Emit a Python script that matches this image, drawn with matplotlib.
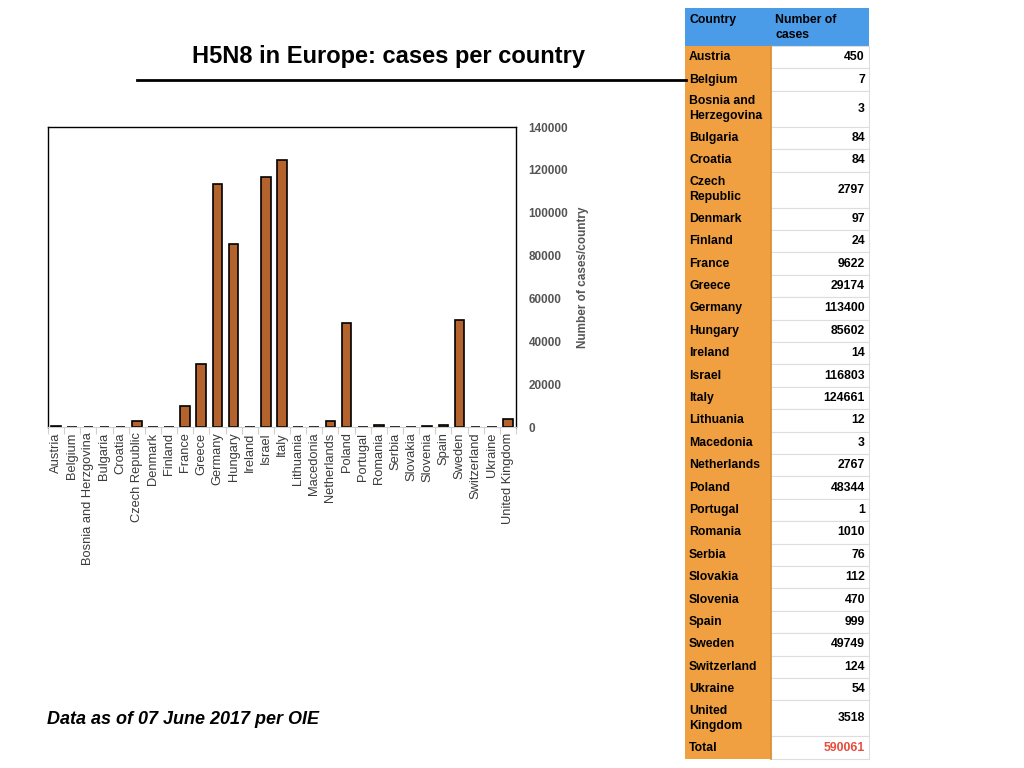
import matplotlib.pyplot as plt
from matplotlib.patches import Rectangle
import numpy as np

plt.rcParams["font.family"] = ["Liberation Sans", "DejaVu Sans"]

# chart data (alphabetical as in the chart, note Greece before Germany)
countries = ["Austria", "Belgium", "Bosnia and Herzgovina", "Bulgaria", "Croatia",
             "Czech Republic", "Denmark", "Finland", "France", "Greece", "Germany",
             "Hungary", "Ireland", "Israel", "Italy", "Lithuania", "Macedonia",
             "Netherlands", "Poland", "Portugal", "Romania", "Serbia", "Slovakia",
             "Slovenia", "Spain", "Sweden", "Switzerland", "Ukraine", "United Kingdom"]
cases = [450, 7, 3, 84, 84, 2797, 97, 24, 9622, 29174, 113400, 85602, 14, 116803,
         124661, 12, 3, 2767, 48344, 1, 1010, 76, 112, 470, 999, 49749, 124, 54, 3518]

# table labels (some split over two lines)
table_names = ["Austria", "Belgium", "Bosnia and\nHerzegovina", "Bulgaria", "Croatia",
               "Czech\nRepublic", "Denmark", "Finland", "France", "Greece", "Germany",
               "Hungary", "Ireland", "Israel", "Italy", "Lithuania", "Macedonia",
               "Netherlands", "Poland", "Portugal", "Romania", "Serbia", "Slovakia",
               "Slovenia", "Spain", "Sweden", "Switzerland", "Ukraine", "United\nKingdom"]
total_cases = sum(cases)

fig = plt.figure(figsize=(10.24, 7.68), dpi=100)

# bar chart
ax = fig.add_axes([48 / 1024, 1 - 427 / 768, 468 / 1024, 300 / 768])
x = np.arange(len(countries))
ax.bar(x, cases, width=0.6, color="#b5632c", edgecolor="black", linewidth=1.2)
ax.set_xlim(-0.5, len(countries) - 0.5)
ax.set_ylim(0, 140000)
ax.set_yticks(np.arange(0, 140001, 20000))
ax.yaxis.tick_right()
ax.yaxis.set_label_position("right")
ax.tick_params(axis="y", length=0, pad=9, labelsize=8.5, labelcolor="#555555")
for lab in ax.get_yticklabels():
    lab.set_fontweight("bold")
ax.set_ylabel("Number of cases/country", fontsize=8.5, fontweight="bold",
              color="#555555", labelpad=6)
ax.set_xticks(x)
ax.set_xticklabels(countries, rotation=90, fontsize=9.3, color="#3a3a3a")
ax.set_xticks(np.arange(-0.5, len(countries), 1), minor=True)
ax.tick_params(axis="x", which="major", length=0, pad=4)
ax.tick_params(axis="x", which="minor", length=5, color="#d0d0d0", width=0.8)
for side in ["left", "right", "top"]:
    ax.spines[side].set_color("black")
    ax.spines[side].set_linewidth(1.0)
ax.spines["bottom"].set_color("#d0d0d0")

# overlay in pixel coords for title, rule, note and table
ov = fig.add_axes([0, 0, 1, 1])
ov.set_xlim(0, 1024)
ov.set_ylim(768, 0)
ov.axis("off")

ov.text(389, 56, "H5N8 in Europe: cases per country", ha="center", va="center",
        fontsize=17, fontweight="bold")
ov.plot([137, 686], [80, 80], color="black", linewidth=2)
ov.text(47, 720, "Data as of 07 June 2017 per OIE", ha="left", va="center",
        fontsize=13, fontweight="bold", fontstyle="italic")

# table
x0, x1, x2 = 685, 771, 869
y = 8
hdr_h = 38
ov.add_patch(Rectangle((x0, y), x2 - x0, hdr_h, facecolor="#4a9be8", edgecolor="none"))
ov.text(x0 + 4, y + 6, "Country", ha="left", va="top", fontsize=8.8, fontweight="bold")
ov.text(x1 + 4, y + 6, "Number of\ncases", ha="left", va="top", fontsize=8.8,
        fontweight="bold", linespacing=1.3)
y += hdr_h

rows = list(zip(table_names, cases)) + [("Total", total_cases)]
for name, val in rows:
    h = 36 if "\n" in name else 22.4
    ov.add_patch(Rectangle((x0, y), x1 - x0, h, facecolor="#f0a040", edgecolor="none"))
    ov.add_patch(Rectangle((x1, y), x2 - x1, h, facecolor="white",
                           edgecolor="#dddddd", linewidth=0.8))
    ov.text(x0 + 4, y + h / 2, name, ha="left", va="center", fontsize=8.8,
            fontweight="bold", linespacing=1.3)
    col = "#e74c3c" if name == "Total" else "black"
    ov.text(x2 - 4, y + h / 2, str(val), ha="right", va="center", fontsize=8.8,
            fontweight="bold", color=col)
    y += h
ov.plot([x1, x1], [8 + hdr_h, y], color="#d8902f", linewidth=1.2)

fig.savefig("out.png", dpi=100)
